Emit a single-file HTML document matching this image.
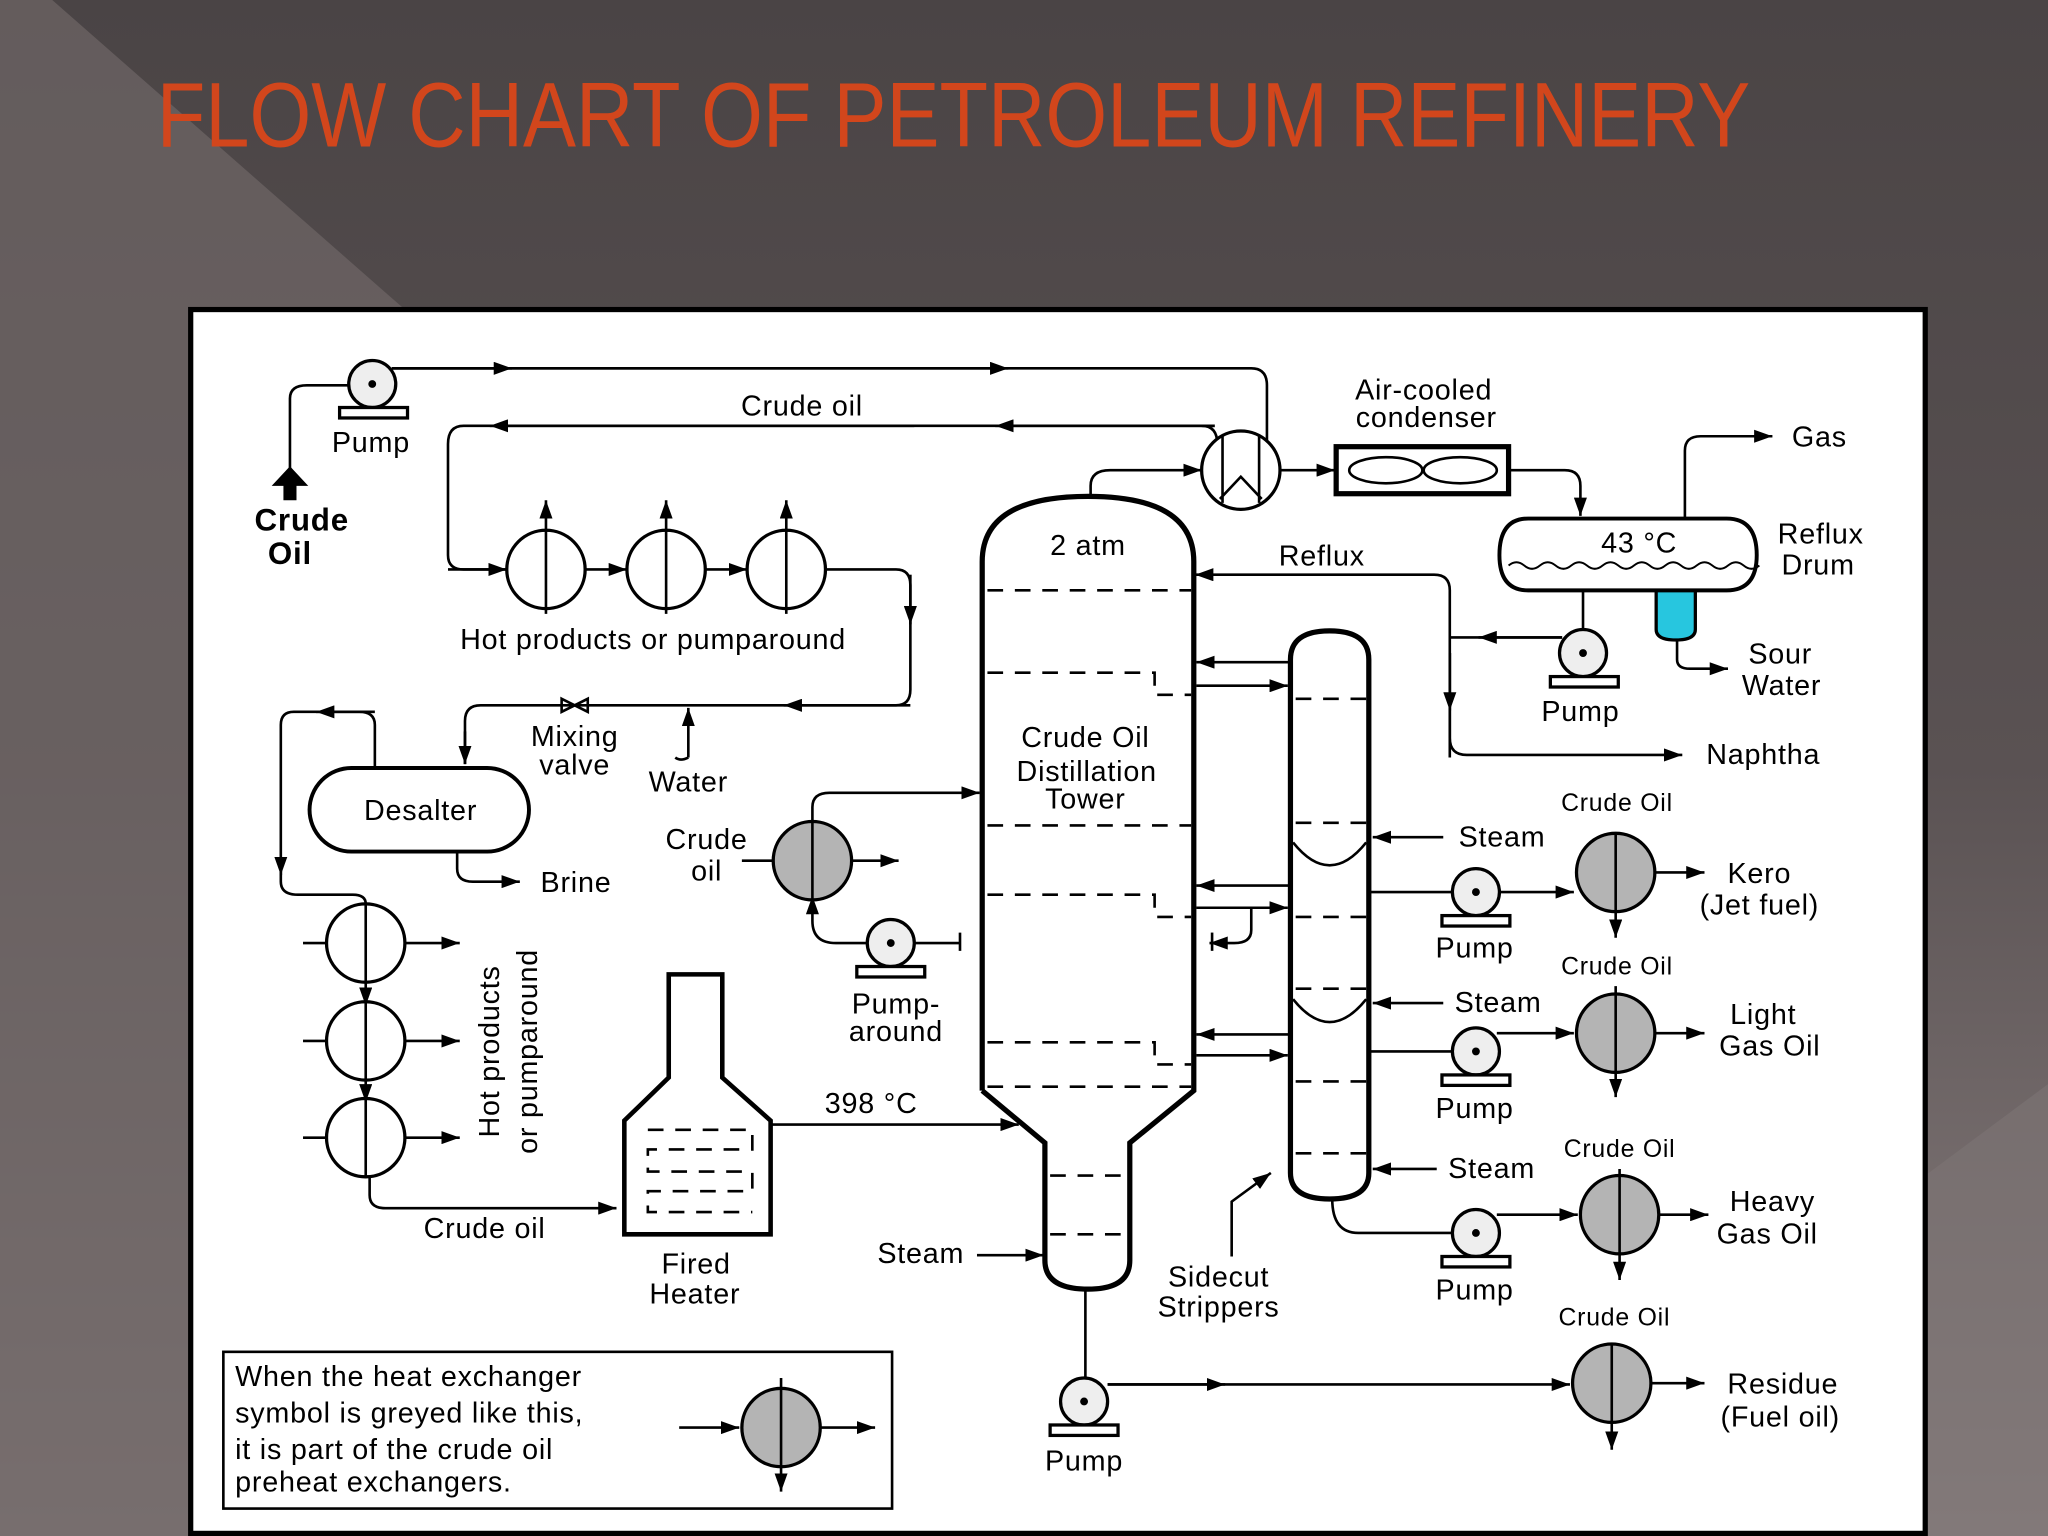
<!DOCTYPE html>
<html><head><meta charset="utf-8"><style>
html,body{margin:0;padding:0;width:2048px;height:1536px;overflow:hidden;background:#4c4646}
svg{display:block}
text{font-family:"Liberation Sans",sans-serif;font-size:22px;fill:#000;letter-spacing:0.6px}
</style></head><body>
<svg width="2048" height="1536" viewBox="0 0 1568 1176" preserveAspectRatio="none" xmlns="http://www.w3.org/2000/svg">
<defs>
<linearGradient id="bg" x1="0" y1="0" x2="0" y2="1">
<stop offset="0" stop-color="#4a4445"/><stop offset="0.5" stop-color="#5a5253"/><stop offset="1" stop-color="#8a8080"/></linearGradient>
<marker id="a" markerWidth="14" markerHeight="10" refX="14" refY="5" orient="auto" markerUnits="userSpaceOnUse"><path d="M0,0L14,5L0,10z"/></marker>
</defs>
<rect width="1568" height="1176" fill="url(#bg)"/>
<polygon points="0,0 40,0 310,237 146,237 146,1176 0,1176" fill="#6f6767" opacity="0.7"/>
<polygon points="1474,900 1568,830 1568,1176 1474,1176" fill="#7d7474" opacity="0.6"/>
<text x="120" y="112" textLength="1220" lengthAdjust="spacingAndGlyphs" style="font-family:'Liberation Sans Narrow','Liberation Sans',sans-serif;font-size:70px;fill:#d2461c;letter-spacing:0">FLOW CHART OF PETROLEUM REFINERY</text>
<rect x="146" y="237" width="1328" height="937" fill="#fff" stroke="#000" stroke-width="4"/>

<g fill="none" stroke="#000" stroke-width="2">
<path d="M222,365 V305 Q222,295 235,295 H268"/>
<path d="M300,282 H958 Q970,282 970,295 V345 Q965,335 960,338"/>
<line x1="300" y1="282" x2="392" y2="282" marker-end="url(#a)"/>
<line x1="300" y1="282" x2="772" y2="282" marker-end="url(#a)"/>
<path d="M930,326 H355 Q343,326 343,340 V425 Q343,436 355,436 H388"/>
<path d="M920,326 Q932,326 932,340"/>
<line x1="930" y1="326" x2="762" y2="326" marker-end="url(#a)"/>
<line x1="700" y1="326" x2="375" y2="326" marker-end="url(#a)"/>
<line x1="343" y1="436" x2="388" y2="436" marker-end="url(#a)"/>
<path d="M835,380 V372 Q835,360 850,360 H920" marker-end="url(#a)"/>
<line x1="980" y1="360" x2="1022" y2="360" marker-end="url(#a)"/>
<path d="M1156,360 H1198 Q1210,360 1210,372 V395" marker-end="url(#a)"/>
<line x1="448" y1="436" x2="480" y2="436" marker-end="url(#a)"/>
<line x1="540" y1="436" x2="572" y2="436" marker-end="url(#a)"/>
<path d="M632,436 H686 Q697,436 697,448 V528 Q697,540 686,540 H368 Q356,540 356,552 V585"/>
<line x1="697" y1="440" x2="697" y2="478" marker-end="url(#a)"/>
<line x1="356" y1="560" x2="356" y2="585" marker-end="url(#a)"/>
<line x1="697" y1="540" x2="600" y2="540" marker-end="url(#a)"/>
<line x1="418" y1="470" x2="418" y2="383" marker-end="url(#a)"/>
<line x1="510" y1="470" x2="510" y2="383" marker-end="url(#a)"/>
<line x1="602" y1="470" x2="602" y2="383" marker-end="url(#a)"/>
<path d="M527,580 Q521,583 517,580 M527,580 V542" marker-end="url(#a)"/>
<path d="M287,588 V555 Q287,545 275,545 H225 Q215,545 215,555 V670" marker-end="url(#a)"/>
<line x1="287" y1="545" x2="242" y2="545" marker-end="url(#a)"/>
<path d="M215,665 V675 Q215,685 228,685 H270 Q280,685 280,692"/>
<path d="M350,652 V665 Q350,675 362,675 H398" marker-end="url(#a)"/>
<line x1="232" y1="722" x2="352" y2="722" marker-end="url(#a)"/>
<line x1="232" y1="797" x2="352" y2="797" marker-end="url(#a)"/>
<line x1="232" y1="871" x2="352" y2="871" marker-end="url(#a)"/>
<line x1="280" y1="752" x2="280" y2="770" marker-end="url(#a)"/>
<line x1="280" y1="827" x2="280" y2="844" marker-end="url(#a)"/>
<path d="M283,901 V915 Q283,925 295,925 H472" marker-end="url(#a)"/>
<line x1="590" y1="861" x2="780" y2="861" marker-end="url(#a)"/>
<line x1="568" y1="659" x2="592" y2="659"/>
<line x1="652" y1="659" x2="688" y2="659" marker-end="url(#a)"/>
<path d="M622,629 V618 Q622,607 635,607 H750" marker-end="url(#a)"/>
<path d="M682,722 H640 Q622,722 622,705 V686" marker-end="url(#a)"/>
<path d="M700,722 H735 M735,714 V728"/>
<path d="M1110,580 V452 Q1110,440 1098,440 H915" marker-end="url(#a)"/>
<path d="M1110,500 V565 Q1110,578 1123,578 H1288" marker-end="url(#a)"/>
<line x1="1110" y1="500" x2="1110" y2="544" marker-end="url(#a)"/>
<path d="M1196,488 H1110"/>
<line x1="1196" y1="488" x2="1132" y2="488" marker-end="url(#a)"/>
<line x1="1212" y1="452" x2="1212" y2="484"/>
<path d="M1290,397 V345 Q1290,334 1302,334 H1357" marker-end="url(#a)"/>
<path d="M1284,488 V505 Q1284,512 1294,512 H1323" marker-end="url(#a)"/>
<line x1="988" y1="507" x2="916" y2="507" marker-end="url(#a)"/>
<line x1="916" y1="525" x2="986" y2="525" marker-end="url(#a)"/>
<line x1="988" y1="678" x2="916" y2="678" marker-end="url(#a)"/>
<line x1="916" y1="695" x2="986" y2="695" marker-end="url(#a)"/>
<path d="M958,695 V712 Q958,722 945,722 H926" marker-end="url(#a)"/>
<path d="M928,714 V728"/>
<line x1="988" y1="792" x2="916" y2="792" marker-end="url(#a)"/>
<line x1="916" y1="808" x2="986" y2="808" marker-end="url(#a)"/>
<line x1="1105" y1="641" x2="1051" y2="641" marker-end="url(#a)"/>
<line x1="1105" y1="768" x2="1051" y2="768" marker-end="url(#a)"/>
<line x1="1100" y1="895" x2="1051" y2="895" marker-end="url(#a)"/>
<line x1="748" y1="961" x2="799" y2="961" marker-end="url(#a)"/>
<path d="M1020,665 Q1022,683 1040,683 H1112"/>
<line x1="1146" y1="683" x2="1205" y2="683" marker-end="url(#a)"/>
<line x1="1267" y1="668" x2="1305" y2="668" marker-end="url(#a)"/>
<line x1="1237" y1="640" x2="1237" y2="718" marker-end="url(#a)"/>
<path d="M1020,788 Q1022,805 1040,805 H1112"/>
<line x1="1146" y1="791" x2="1205" y2="791" marker-end="url(#a)"/>
<line x1="1267" y1="791" x2="1305" y2="791" marker-end="url(#a)"/>
<line x1="1237" y1="755" x2="1237" y2="840" marker-end="url(#a)"/>
<path d="M1020,918 Q1020,944 1040,944 H1112"/>
<line x1="1146" y1="930" x2="1208" y2="930" marker-end="url(#a)"/>
<line x1="1270" y1="930" x2="1308" y2="930" marker-end="url(#a)"/>
<line x1="1240" y1="895" x2="1240" y2="980" marker-end="url(#a)"/>
<line x1="831" y1="987" x2="831" y2="1058"/>
<line x1="848" y1="1060" x2="938" y2="1060" marker-end="url(#a)"/>
<line x1="848" y1="1060" x2="1202" y2="1060" marker-end="url(#a)"/>
<line x1="1264" y1="1059" x2="1305" y2="1059" marker-end="url(#a)"/>
<line x1="1234" y1="1030" x2="1234" y2="1110" marker-end="url(#a)"/>
<path d="M943,962 V920 L973,898" marker-end="url(#a)"/>
<line x1="520" y1="1093" x2="566" y2="1093" marker-end="url(#a)"/>
<line x1="628" y1="1093" x2="670" y2="1093" marker-end="url(#a)"/>
<line x1="598" y1="1055" x2="598" y2="1142" marker-end="url(#a)"/>
</g>

<g stroke="#000" stroke-width="2.5" fill="#fff">
<circle cx="418" cy="436" r="30"/><circle cx="510" cy="436" r="30"/><circle cx="602" cy="436" r="30"/>
<circle cx="280" cy="722" r="30"/><circle cx="280" cy="797" r="30"/><circle cx="280" cy="871" r="30"/>
<circle cx="950" cy="360" r="30"/>
</g>
<g stroke="#000" stroke-width="2.5" fill="#b4b4b4">
<circle cx="622" cy="659" r="30"/><circle cx="1237" cy="668" r="30"/><circle cx="1237" cy="791" r="30"/>
<circle cx="1240" cy="930" r="30"/><circle cx="1234" cy="1059" r="30"/><circle cx="598" cy="1093" r="30"/>
</g>
<g stroke="#000" stroke-width="2" fill="none">
<line x1="280" y1="692" x2="280" y2="752"/><line x1="280" y1="767" x2="280" y2="827"/><line x1="280" y1="841" x2="280" y2="901"/>
<line x1="418" y1="406" x2="418" y2="466"/><line x1="510" y1="406" x2="510" y2="466"/><line x1="602" y1="406" x2="602" y2="466"/>
<line x1="622" y1="629" x2="622" y2="689"/>
<line x1="1237" y1="638" x2="1237" y2="698"/><line x1="1237" y1="761" x2="1237" y2="821"/>
<line x1="1240" y1="900" x2="1240" y2="960"/><line x1="1234" y1="1029" x2="1234" y2="1089"/>
<line x1="598" y1="1063" x2="598" y2="1123"/>
<path d="M936,333 V385 M964,333 V385 M934,382 L950,365 L966,382"/>
</g>
<g stroke="#000" stroke-width="2.5" fill="#eee">
<circle cx="285" cy="294" r="18"/><rect x="260" y="312" width="52" height="8" fill="#fff"/>
<circle cx="1212" cy="500" r="18"/><rect x="1187" y="518" width="52" height="8" fill="#fff"/>
<circle cx="682" cy="722" r="18"/><rect x="656" y="740" width="52" height="8" fill="#fff"/>
<circle cx="1130" cy="683" r="18"/><rect x="1104" y="701" width="52" height="8" fill="#fff"/>
<circle cx="1130" cy="805" r="18"/><rect x="1104" y="823" width="52" height="8" fill="#fff"/>
<circle cx="1130" cy="944" r="18"/><rect x="1104" y="962" width="52" height="8" fill="#fff"/>
<circle cx="830" cy="1073" r="18"/><rect x="804" y="1091" width="52" height="8" fill="#fff"/>
</g>
<g fill="#000"><circle cx="285" cy="294" r="3"/><circle cx="1212" cy="500" r="3"/><circle cx="682" cy="722" r="3"/><circle cx="1130" cy="683" r="3"/><circle cx="1130" cy="805" r="3"/><circle cx="1130" cy="944" r="3"/><circle cx="830" cy="1073" r="3"/>
<path d="M208,372 L222,357 L236,372 H227 V383 H217 V372z"/>
<path d="M430,535 L450,545 V535 L430,545z" fill="none" stroke="#000" stroke-width="2"/>
</g>
<rect x="1023" y="342" width="132" height="36" fill="#fff" stroke="#000" stroke-width="4"/>
<g fill="none" stroke="#000" stroke-width="2"><ellipse cx="1061" cy="360" rx="28" ry="10"/><ellipse cx="1118" cy="360" rx="28" ry="10"/></g>
<path d="M1268,452 V482 Q1268,490 1283,490 Q1298,490 1298,482 V452" fill="#27c6df" stroke="#000" stroke-width="2.5"/>
<path d="M1170,397 H1322 Q1345,397 1345,425 Q1345,452 1322,452 H1170 Q1148,452 1148,425 Q1148,397 1170,397z" fill="#fff" stroke="#000" stroke-width="3"/>
<path d="M1155,433 q6,-5 12,0 t12,0 t12,0 t12,0 t12,0 t12,0 t12,0 t12,0 t12,0 t12,0 t12,0 t12,0 t12,0 t12,0 t12,0 t12,0" fill="none" stroke="#000" stroke-width="1.5"/>
<path d="M752,835 V430 Q752,380 833,380 Q914,380 914,430 V835 L865,875 V965 Q865,987 833,987 Q800,987 800,965 V875 L752,835" fill="#fff" stroke="#000" stroke-width="4"/>
<g stroke="#000" stroke-width="2" fill="none" stroke-dasharray="12,9">
<line x1="756" y1="452" x2="912" y2="452"/>
<path d="M756,515 H884 V532 H912"/>
<line x1="756" y1="632" x2="912" y2="632"/>
<path d="M756,685 H884 V702 H912"/>
<path d="M756,798 H884 V815 H912"/>
<line x1="756" y1="832" x2="912" y2="832"/>
<line x1="804" y1="900" x2="862" y2="900"/>
<line x1="804" y1="945" x2="862" y2="945"/>
<path d="M496,865 H576 V880 H496 V897 H576 V912 H496 V928 H576"/>
</g>
<path d="M988,505 Q988,483 1018,483 Q1048,483 1048,505 V898 Q1048,918 1018,918 Q988,918 988,898z" fill="#fff" stroke="#000" stroke-width="4"/>
<g stroke="#000" stroke-width="2" fill="none">
<path d="M990,645 Q1018,680 1046,645"/><path d="M990,765 Q1018,800 1046,765"/>
<g stroke-dasharray="12,9"><line x1="992" y1="535" x2="1046" y2="535"/><line x1="992" y1="630" x2="1046" y2="630"/><line x1="992" y1="702" x2="1046" y2="702"/><line x1="992" y1="757" x2="1046" y2="757"/><line x1="992" y1="828" x2="1046" y2="828"/><line x1="992" y1="883" x2="1046" y2="883"/></g>
</g>
<rect x="237" y="588" width="168" height="64" rx="32" fill="#fff" stroke="#000" stroke-width="3"/>
<path d="M512,746 H553 V825 L590,858 V945 H478 V858 L512,825z" fill="none" stroke="#000" stroke-width="3.5"/>
<rect x="171" y="1035" width="512" height="120" fill="none" stroke="#000" stroke-width="2"/>

<g text-anchor="middle">
<text x="284" y="346">Pump</text>
<text x="231" y="406" style="font-weight:bold;font-size:24px">Crude</text>
<text x="222" y="432" style="font-weight:bold;font-size:24px">Oil</text>
<text x="614" y="318">Crude oil</text>
<text x="1090" y="306">Air-cooled</text><text x="1092" y="327">condenser</text>
<text x="1393" y="342">Gas</text>
<text x="1394" y="416">Reflux</text><text x="1392" y="440">Drum</text>
<text x="1255" y="423">43 °C</text>
<text x="833" y="425">2 atm</text>
<text x="1012" y="433">Reflux</text>
<text x="500" y="497">Hot products or pumparound</text>
<text x="440" y="571">Mixing</text><text x="440" y="593">valve</text>
<text x="527" y="606">Water</text>
<text x="322" y="628">Desalter</text>
<text x="441" y="683">Brine</text>
<text x="1363" y="508">Sour</text><text x="1364" y="532">Water</text>
<text x="1210" y="552">Pump</text>
<text x="1350" y="585">Naphtha</text>
<text x="831" y="572">Crude Oil</text><text x="832" y="598">Distillation</text><text x="831" y="619">Tower</text>
<text x="541" y="650">Crude</text><text x="541" y="674">oil</text>
<text x="686" y="776">Pump-</text><text x="686" y="797">around</text>
<text x="1238" y="621" style="font-size:19px">Crude Oil</text>
<text x="1150" y="648">Steam</text>
<text x="1347" y="676">Kero</text><text x="1347" y="700">(Jet fuel)</text>
<text x="1129" y="733">Pump</text>
<text x="1238" y="746" style="font-size:19px">Crude Oil</text>
<text x="1147" y="775">Steam</text>
<text x="1350" y="784">Light</text><text x="1355" y="808">Gas Oil</text>
<text x="1129" y="856">Pump</text>
<text x="667" y="852">398 °C</text>
<text x="1240" y="886" style="font-size:19px">Crude Oil</text>
<text x="1142" y="902">Steam</text>
<text x="1357" y="927">Heavy</text><text x="1353" y="952">Gas Oil</text>
<text x="371" y="948">Crude oil</text>
<text x="705" y="967">Steam</text>
<text x="533" y="975">Fired</text><text x="532" y="998">Heater</text>
<text x="933" y="985">Sidecut</text><text x="933" y="1008">Strippers</text>
<text x="1129" y="995">Pump</text>
<text x="1236" y="1015" style="font-size:19px">Crude Oil</text>
<text x="1365" y="1067">Residue</text><text x="1363" y="1092">(Fuel oil)</text>
<text x="830" y="1126">Pump</text>
</g>
<text transform="translate(382,805) rotate(-90)" text-anchor="middle">Hot products</text>
<text transform="translate(411,805) rotate(-90)" text-anchor="middle">or pumparound</text>
<text x="180" y="1061">When the heat exchanger</text>
<text x="180" y="1089">symbol is greyed like this,</text>
<text x="180" y="1117">it is part of the crude oil</text>
<text x="180" y="1142">preheat exchangers.</text>
</svg>
</body></html>
